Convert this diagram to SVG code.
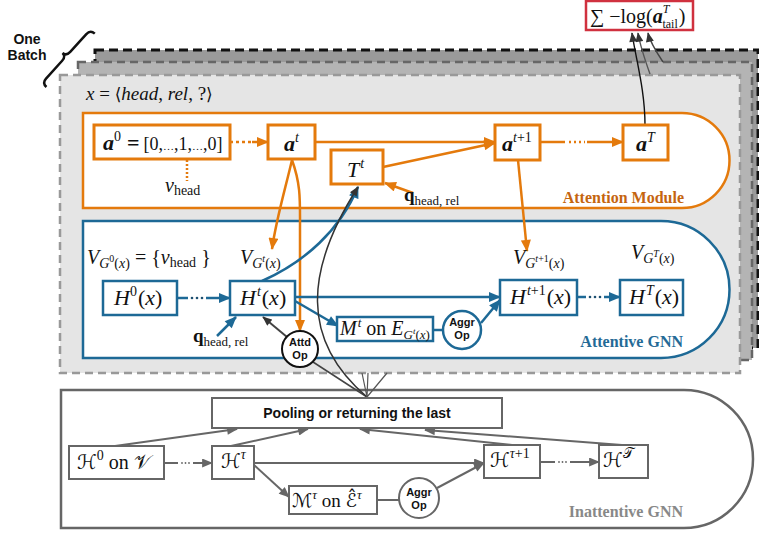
<svg xmlns="http://www.w3.org/2000/svg" width="759" height="533" viewBox="0 0 759 533">
<style>
.m{font-family:"Liberation Serif","Times New Roman",serif;fill:#111}
.i{font-style:italic}
.bi{font-weight:bold;font-style:italic}
.b{font-weight:bold}
.cal{font-family:"DejaVu Serif","DejaVu Sans",serif}
.s{font-family:"Liberation Sans",Arial,sans-serif;font-weight:bold;fill:#111}
.lab{font-family:"Liberation Serif",serif;font-weight:bold;font-size:16px}
.ob{fill:#fff;stroke:#e47a0c;stroke-width:3}
.bb{fill:#fff;stroke:#1d6996;stroke-width:2.5}
.gb{fill:#fff;stroke:#666;stroke-width:2}
.oc{fill:none;stroke:#e47a0c;stroke-width:2.5}
.bc{fill:none;stroke:#1d6996;stroke-width:2.5}
.gc{fill:none;stroke:#666;stroke-width:2}
.kc{fill:none;stroke:#333;stroke-width:1.5}
</style>
<defs>
<marker id="ao" viewBox="0 0 12 10" refX="11" refY="5" markerWidth="13" markerHeight="10" markerUnits="userSpaceOnUse" orient="auto"><path d="M0,0 L12,5 L0,10 Z" fill="#e47a0c"/></marker>
<marker id="ab" viewBox="0 0 12 10" refX="11" refY="5" markerWidth="13" markerHeight="10" markerUnits="userSpaceOnUse" orient="auto"><path d="M0,0 L12,5 L0,10 Z" fill="#1d6996"/></marker>
<marker id="ag" viewBox="0 0 12 10" refX="11" refY="5" markerWidth="12" markerHeight="9" markerUnits="userSpaceOnUse" orient="auto"><path d="M0,0 L12,5 L0,10 Z" fill="#666"/></marker>
<marker id="ak" viewBox="0 0 12 10" refX="11" refY="5" markerWidth="11" markerHeight="8" markerUnits="userSpaceOnUse" orient="auto"><path d="M0,0 L12,5 L0,10 Z" fill="#333"/></marker>
</defs>

<!-- batch frames -->
<g id="batch-frames">
<rect x="95" y="50" width="663" height="298" fill="#9a9a9a" stroke="#111" stroke-width="3" stroke-dasharray="9 5"/>
<rect x="78" y="62" width="674" height="298" fill="#b4b4b4" stroke="#666" stroke-width="2.5" stroke-dasharray="8 5"/>
<rect x="60" y="75" width="680" height="298" fill="#e5e5e5" stroke="#999" stroke-width="2.5" stroke-dasharray="8 5"/>
</g>

<g id="batch-label">
<text class="s" x="27" y="44" font-size="14" text-anchor="middle">One</text>
<text class="s" x="27" y="60" font-size="14" text-anchor="middle">Batch</text>
<path d="M0,6 Q0,0 6,0 L30,0 Q36,0 36,-5 Q36,0 42,0 L66,0 Q72,0 72,6" fill="none" stroke="#111" stroke-width="2.5" transform="translate(42,83) rotate(-47.8)"/>
</g>

<text class="m" x="86" y="100" font-size="19"><tspan class="i">x</tspan> = <tspan font-family="DejaVu Serif" font-size="17">⟨</tspan><tspan class="i">head</tspan>, <tspan class="i">rel</tspan>, ?<tspan font-family="DejaVu Serif" font-size="17">⟩</tspan></text>

<!-- containers -->
<g id="attention-module">
<path d="M83,113 H682 A47.5,47.5 0 0 1 682,208 H83 Z" fill="#fff" stroke="#e47a0c" stroke-width="2.5"/>
<text class="lab" x="684" y="203" text-anchor="end" fill="#c5650f">Attention Module</text>
</g>
<g id="attentive-gnn">
<path d="M83,221 H661 A68.5,68.5 0 0 1 661,358 H83 Z" fill="#fff" stroke="#1d6996" stroke-width="2.5"/>
<text class="lab" x="683" y="347" text-anchor="end" fill="#246a96">Attentive GNN</text>
</g>
<g id="inattentive-gnn">
<path d="M61,390 H684 A69,69 0 0 1 684,528 H61 Z" fill="#fff" stroke="#666" stroke-width="2.5"/>
<text class="lab" x="683" y="517" text-anchor="end" fill="#888">Inattentive GNN</text>
</g>

<!-- connectors -->
<g id="connectors">
<!-- loss -->
<path d="M663,62 C 655,50 650,42 648,33" fill="none" stroke="#444" stroke-width="1.4" marker-end="url(#ak)"/>
<path d="M650,74 C 645,60 640,45 638,33" fill="none" stroke="#555" stroke-width="1.4" marker-end="url(#ak)"/>
<path d="M645,125 C 645,90 636,60 632,33" fill="none" stroke="#111" stroke-width="1.4" marker-end="url(#ak)"/>
<!-- attention module -->
<path d="M230,142 H254" class="oc" stroke-dasharray="3 3"/>
<path d="M252,142 H268" class="oc" marker-end="url(#ao)"/>
<path d="M187,160 V181" class="oc" stroke-width="2" stroke-dasharray="2 2"/>
<path d="M315,142 H495" class="oc" marker-end="url(#ao)"/>
<path d="M383,167 L495,143" class="oc" marker-end="url(#ao)"/>
<path d="M540,142 H565" class="oc"/>
<path d="M569,142 H585" class="oc" stroke-dasharray="2 3" stroke="#f0a860"/>
<path d="M587,142 H623" class="oc" marker-end="url(#ao)"/>
<path d="M413,193 L385,183" class="oc" marker-end="url(#ao)"/>
<path d="M292,160 C 285,190 276,220 272,249" class="oc" marker-end="url(#ao)"/>
<path d="M292,160 C 301,185 300,200 300,230 L300,331" class="oc" marker-end="url(#ao)"/>
<path d="M518,160 L527,251" class="oc" marker-end="url(#ao)"/>
<!-- attentive GNN -->
<path d="M177,298 H188" class="bc"/>
<circle cx="192" cy="298" r="1.3" fill="#1d4f70"/><circle cx="197" cy="298" r="1.3" fill="#1d4f70"/><circle cx="202" cy="298" r="1.3" fill="#1d4f70"/>
<path d="M206,298 H230" class="bc" marker-end="url(#ab)"/>
<path d="M295,297 H500" class="bc" marker-end="url(#ab)"/>
<path d="M295,301 L338,326" class="bc" marker-end="url(#ab)"/>
<path d="M433,330 H443" class="bc"/>
<path d="M481,323 L500,300" class="bc" marker-end="url(#ab)"/>
<path d="M577,297 H586" class="bc"/>
<circle cx="590" cy="297" r="1.3" fill="#1d4f70"/><circle cx="595" cy="297" r="1.3" fill="#1d4f70"/><circle cx="600" cy="297" r="1.3" fill="#1d4f70"/>
<path d="M604,297 H620" class="bc" marker-end="url(#ab)"/>
<path d="M217,336 L236,317" class="bc" marker-end="url(#ab)"/>
<path d="M262,281 C 305,262 340,230 358,187" class="bc" marker-end="url(#ab)"/>
<!-- attd op / pooling -->
<path d="M287,337 L263,317" fill="none" stroke="#444" stroke-width="2" marker-end="url(#ak)"/>
<path d="M313,362 L367,397" fill="none" stroke="#444" stroke-width="1.5"/>
<path d="M367,397 C 300,340 305,270 358,187" class="kc" marker-end="url(#ak)"/>
<path d="M367,397 L362,373 M367,397 L368,373 M367,397 L387,373" fill="none" stroke="#555" stroke-width="1.2"/>
<!-- inattentive GNN -->
<path d="M164,463 H178" class="gc"/>
<circle cx="182" cy="463" r="0.9" fill="#666"/><circle cx="185.5" cy="463" r="0.9" fill="#666"/><circle cx="189" cy="463" r="0.9" fill="#666"/>
<path d="M193,463 H212" class="gc" marker-end="url(#ag)"/>
<path d="M254,463 H484" class="gc" marker-end="url(#ag)"/>
<path d="M254,465 L289,497" class="gc" marker-end="url(#ag)"/>
<path d="M377,500 H399" class="gc"/>
<path d="M437,488 L484,463" class="gc" marker-end="url(#ag)"/>
<path d="M540,462 H555" class="gc"/>
<circle cx="559" cy="462" r="0.9" fill="#666"/><circle cx="562.5" cy="462" r="0.9" fill="#666"/><circle cx="566" cy="462" r="0.9" fill="#666"/>
<path d="M570,462 H599" class="gc" marker-end="url(#ag)"/>
<path d="M115,446 L237,429" class="gc" marker-end="url(#ag)"/>
<path d="M231,446 L308,429" class="gc" marker-end="url(#ag)"/>
<path d="M512,445 L360,429" class="gc" marker-end="url(#ag)"/>
<path d="M622,445 L425,430" class="gc" marker-end="url(#ag)"/>
</g>

<!-- loss node -->
<g id="loss">
<rect x="586" y="1" width="107" height="29" fill="#fff" stroke="#d0313f" stroke-width="2.5"/>
<text class="m" x="590" y="23" font-size="20">∑ −log(<tspan class="bi">a</tspan><tspan class="i" font-size="12" dy="-10">T</tspan><tspan font-size="12" dx="-7" dy="15">tail</tspan><tspan dy="-5" dx="1">)</tspan></text>
</g>

<!-- attention module nodes -->
<g id="a0">
<rect x="94" y="125" width="136" height="34" class="ob"/>
<text class="m" x="103" y="150" font-size="22"><tspan class="bi">a</tspan><tspan font-size="14" dy="-9">0</tspan><tspan class="b" dy="9" dx="6">=</tspan><tspan font-size="18" dx="4">[0,</tspan><tspan font-size="11">…</tspan><tspan font-size="18">,1,</tspan><tspan font-size="11">…</tspan><tspan font-size="18">,0]</tspan></text>
</g>
<g id="v-head">
<text class="m" x="165" y="192" font-size="20"><tspan class="i">v</tspan><tspan font-size="14" dy="3">head</tspan></text>
</g>
<g id="at">
<rect x="268" y="125" width="47" height="34" class="ob"/>
<text class="m" x="284" y="151" font-size="22"><tspan class="bi">a</tspan><tspan class="i" font-size="14" dy="-9">t</tspan></text>
</g>
<g id="Tt">
<rect x="331" y="150" width="52" height="34" class="ob"/>
<text class="m" x="347" y="177" font-size="22"><tspan class="i">T</tspan><tspan class="i" font-size="14" dy="-9" dx="1">t</tspan></text>
</g>
<g id="q-top">
<text class="m" x="404" y="201" font-size="19"><tspan class="b">q</tspan><tspan font-size="13" dy="4">head, rel</tspan></text>
</g>
<g id="at1">
<rect x="495" y="125" width="45" height="35" class="ob"/>
<text class="m" x="502" y="151" font-size="22"><tspan class="bi">a</tspan><tspan class="i" font-size="14" dy="-9">t</tspan><tspan font-size="14">+1</tspan></text>
</g>
<g id="aT">
<rect x="623" y="125" width="45" height="35" class="ob"/>
<text class="m" x="636" y="151" font-size="22"><tspan class="bi">a</tspan><tspan class="i" font-size="14" dy="-9">T</tspan></text>
</g>

<!-- attentive GNN nodes -->
<g id="VG0">
<text class="m" x="87" y="264" font-size="20"><tspan class="i">V</tspan><tspan class="i" font-size="14" dy="4">G</tspan><tspan font-size="10" dy="-6">0</tspan><tspan font-size="14" dy="6">(</tspan><tspan class="i" font-size="14">x</tspan><tspan font-size="14">)</tspan><tspan dy="-4"> = {</tspan><tspan class="i">v</tspan><tspan font-size="14" dy="3">head</tspan><tspan dy="-3"> }</tspan></text>
</g>
<g id="H0">
<rect x="103" y="281" width="74" height="34" class="bb"/>
<text class="m" x="114" y="305" font-size="22"><tspan class="i">H</tspan><tspan font-size="14" dy="-9">0</tspan><tspan dy="9" dx="1">(</tspan><tspan class="i">x</tspan>)</text>
</g>
<g id="VGt">
<text class="m" x="240" y="264" font-size="20"><tspan class="i">V</tspan><tspan class="i" font-size="14" dy="4">G</tspan><tspan class="i" font-size="10" dy="-6">t</tspan><tspan font-size="14" dy="6">(</tspan><tspan class="i" font-size="14">x</tspan><tspan font-size="14">)</tspan></text>
</g>
<g id="Ht">
<rect x="230" y="281" width="65" height="34" class="bb"/>
<text class="m" x="240" y="305" font-size="22"><tspan class="i">H</tspan><tspan class="i" font-size="14" dy="-9" dx="1">t</tspan><tspan dy="9" dx="1">(</tspan><tspan class="i">x</tspan>)</text>
</g>
<g id="q-bottom">
<text class="m" x="193" y="342" font-size="19"><tspan class="b">q</tspan><tspan font-size="13" dy="4">head, rel</tspan></text>
</g>
<g id="Mt">
<rect x="337" y="317" width="96" height="24" class="bb"/>
<text class="m" x="340" y="335" font-size="20"><tspan class="i">M</tspan><tspan class="i" font-size="13" dy="-8" dx="1">t</tspan><tspan dy="8"> on </tspan><tspan class="i">E</tspan><tspan class="i" font-size="13" dy="4">G</tspan><tspan class="i" font-size="9" dy="-5">t</tspan><tspan font-size="13" dy="5">(</tspan><tspan class="i" font-size="13">x</tspan><tspan font-size="13">)</tspan></text>
</g>
<g id="aggr-att">
<circle cx="462" cy="330" r="19" fill="#fff" stroke="#1d6996" stroke-width="2.5"/>
<text class="s" x="462" y="326" font-size="11" text-anchor="middle">Aggr</text>
<text class="s" x="462" y="339" font-size="11" text-anchor="middle">Op</text>
</g>
<g id="VGt1">
<text class="m" x="513" y="264" font-size="20"><tspan class="i">V</tspan><tspan class="i" font-size="14" dy="4">G</tspan><tspan class="i" font-size="10" dy="-6">t</tspan><tspan font-size="10">+1</tspan><tspan font-size="14" dy="6">(</tspan><tspan class="i" font-size="14">x</tspan><tspan font-size="14">)</tspan></text>
</g>
<g id="Ht1">
<rect x="500" y="280" width="77" height="35" class="bb"/>
<text class="m" x="510" y="304" font-size="22"><tspan class="i">H</tspan><tspan class="i" font-size="14" dy="-9" dx="1">t</tspan><tspan font-size="14">+1</tspan><tspan dy="9" dx="1">(</tspan><tspan class="i">x</tspan>)</text>
</g>
<g id="VGT">
<text class="m" x="631" y="259" font-size="20"><tspan class="i">V</tspan><tspan class="i" font-size="14" dy="4">G</tspan><tspan class="i" font-size="10" dy="-6">T</tspan><tspan font-size="14" dy="6">(</tspan><tspan class="i" font-size="14">x</tspan><tspan font-size="14">)</tspan></text>
</g>
<g id="HT">
<rect x="620" y="280" width="63" height="35" class="bb"/>
<text class="m" x="629" y="304" font-size="22"><tspan class="i">H</tspan><tspan class="i" font-size="14" dy="-9" dx="1">T</tspan><tspan dy="9" dx="1">(</tspan><tspan class="i">x</tspan>)</text>
</g>
<g id="attd-op">
<circle cx="300" cy="349" r="18" fill="#fff" stroke="#111" stroke-width="2"/>
<text class="s" x="300" y="346" font-size="11" text-anchor="middle">Attd</text>
<text class="s" x="300" y="359" font-size="11" text-anchor="middle">Op</text>
</g>

<!-- inattentive GNN nodes -->
<g id="pooling">
<rect x="212" y="398" width="290" height="30" class="gb"/>
<text class="s" x="357" y="418" font-size="14" text-anchor="middle">Pooling or returning the last</text>
</g>
<g id="H0-inatt">
<rect x="69" y="446" width="95" height="33" class="gb"/>
<text class="m" x="77" y="469" font-size="20"><tspan class="cal">ℋ</tspan><tspan font-size="14" dy="-9">0</tspan><tspan dy="9"> on </tspan><tspan class="cal">𝒱</tspan></text>
</g>
<g id="Htau">
<rect x="212" y="446" width="42" height="33" class="gb"/>
<text class="m" x="221" y="468" font-size="20"><tspan class="cal">ℋ</tspan><tspan class="i" font-size="14" dy="-9">τ</tspan></text>
</g>
<g id="Mtau">
<rect x="289" y="486" width="88" height="28" class="gb"/>
<text class="m" x="292" y="507" font-size="19"><tspan class="cal">ℳ</tspan><tspan class="i" font-size="13" dy="-8">τ</tspan><tspan dy="8"> on </tspan><tspan class="cal">ℰ̂</tspan><tspan class="i" font-size="13" dy="-8">τ</tspan></text>
</g>
<g id="aggr-inatt">
<circle cx="419" cy="498" r="20" fill="#fff" stroke="#666" stroke-width="2"/>
<text class="s" x="419" y="496" font-size="11" text-anchor="middle">Aggr</text>
<text class="s" x="419" y="509" font-size="11" text-anchor="middle">Op</text>
</g>
<g id="Htau1">
<rect x="484" y="445" width="56" height="33" class="gb"/>
<text class="m" x="490" y="467" font-size="20"><tspan class="cal">ℋ</tspan><tspan class="i" font-size="14" dy="-9">τ</tspan><tspan font-size="14">+1</tspan></text>
</g>
<g id="HTcal">
<rect x="599" y="445" width="49" height="33" class="gb"/>
<text class="m" x="603" y="467" font-size="20"><tspan class="cal">ℋ</tspan><tspan class="cal" font-size="14" dy="-9">𝒯</tspan></text>
</g>
</svg>
